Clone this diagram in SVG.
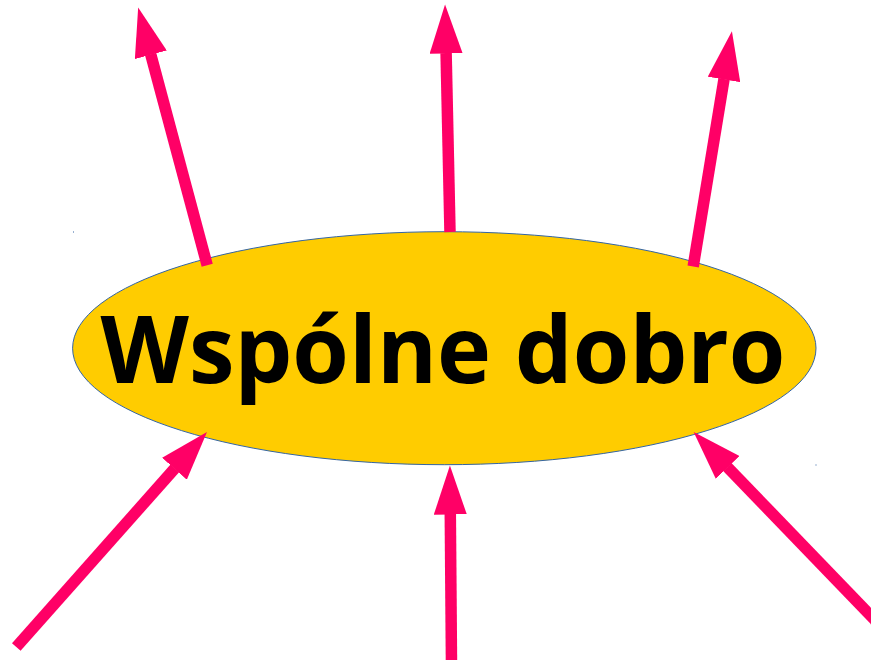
<svg xmlns="http://www.w3.org/2000/svg" width="871" height="660" viewBox="0 0 871 660">
<defs>
<style>
.arr{stroke:#ff0066;stroke-width:11.5;fill:none;stroke-linecap:butt;marker-end:url(#head)}
.lbl{font-family:"Open Sans","Noto Sans","DejaVu Sans",sans-serif;font-weight:bold;font-size:93px;fill:#000}
</style>
<marker id="head" markerUnits="userSpaceOnUse" viewBox="0 0 49 33" refX="0.5" refY="16.5" markerWidth="49" markerHeight="33" orient="auto">
<path d="M0,0 L49,16.5 L0,33 Z" fill="#ff0066"/>
</marker>
</defs>
<rect width="871" height="660" fill="#fff"/>
<g id="node-wspolne-dobro">
<ellipse cx="444.3" cy="348.2" rx="371.7" ry="116.5" fill="#ffcc00" stroke="#3465a4" stroke-width="1"/>
<text class="lbl" x="443" y="383" text-anchor="middle" textLength="685" lengthAdjust="spacingAndGlyphs">Wspólne dobro</text>
<rect x="73" y="231.5" width="1" height="1" fill="#3465a4"/>
<rect x="815.5" y="464.5" width="1" height="1" fill="#3465a4"/>
</g>
<g id="connectors">
<line class="arr" x1="207.2" y1="265.3" x2="150.7" y2="54.3"/>
<line class="arr" x1="450" y1="232" x2="446.1" y2="53"/>
<line class="arr" x1="693.2" y1="266.5" x2="724.05" y2="79"/>
<line class="arr" x1="16.3" y1="647" x2="174.8" y2="468.4"/>
<line class="arr" x1="451.5" y1="665" x2="450.3" y2="514"/>
<line class="arr" x1="880" y1="625.3" x2="727.3" y2="467"/>
</g>
</svg>
